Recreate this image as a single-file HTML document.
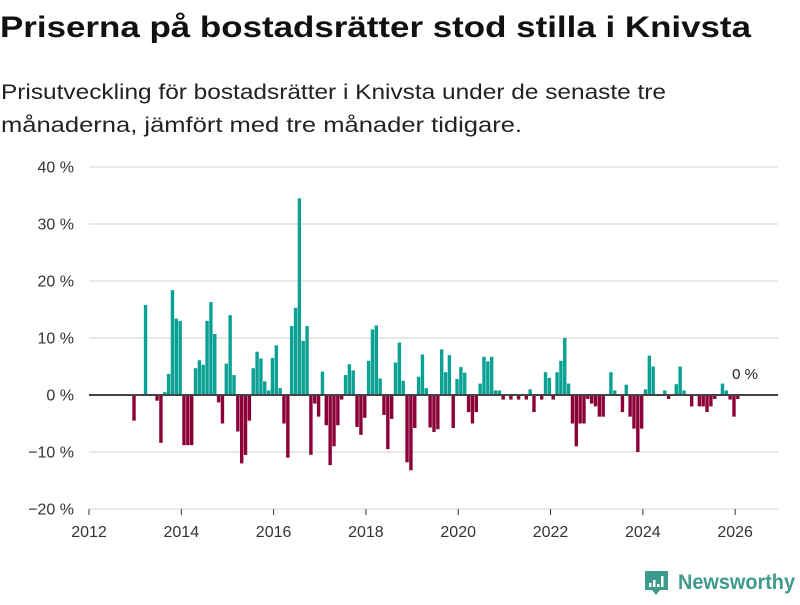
<!DOCTYPE html>
<html><head><meta charset="utf-8"><style>
body{margin:0;width:800px;height:600px;background:#fff;overflow:hidden;font-family:"Liberation Sans",sans-serif;}
</style></head><body>
<svg width="800" height="600" viewBox="0 0 800 600">
<text x="0" y="37" font-size="30" font-weight="bold" fill="#111" textLength="751" lengthAdjust="spacingAndGlyphs">Priserna på bostadsrätter stod stilla i Knivsta</text>
<text x="1" y="99" font-size="21.5" fill="#222" textLength="665" lengthAdjust="spacingAndGlyphs">Prisutveckling för bostadsrätter i Knivsta under de senaste tre</text>
<text x="1" y="132" font-size="21.5" fill="#222" textLength="521" lengthAdjust="spacingAndGlyphs">månaderna, jämfört med tre månader tidigare.</text>
<g id="grid"></g><g id="bars"></g><g id="axes"></g>
<text x="745" y="379" font-size="15" fill="#222" text-anchor="middle">0 %</text>
<g>
<path d="M645 571 h23 v19 h-8 l-4 5 l-4 -5 h-7 z" fill="#3e9a8c"/>
<rect x="649" y="583" width="2.5" height="4" fill="#fff"/><rect x="653" y="580" width="2.5" height="7" fill="#fff"/><rect x="657" y="584" width="2.5" height="3" fill="#fff"/><rect x="661" y="576" width="2.5" height="11" fill="#fff"/>
<text x="678" y="589" font-size="21" font-weight="bold" fill="#3e9a8c" textLength="117" lengthAdjust="spacingAndGlyphs">Newsworthy</text>
</g>
</svg>
<script>
const startIndex = 11; // Dec 2012 (months since Jan 2012)
const values = [-4.5,0,0,15.8,0,0,-1,-8.4,0.5,3.7,18.4,13.4,13,-8.8,-8.8,-8.8,4.7,6.1,5.3,13,16.3,10.7,-1.3,-5,5.5,14,3.5,-6.4,-12,-10.5,-4.5,4.7,7.6,6.4,2.4,0.8,6.5,8.7,1.2,-5,-11,12.1,15.3,34.5,9.5,12.1,-10.5,-1.5,-3.8,4.1,-5.3,-12.3,-9,-5.3,-0.8,3.5,5.4,4.3,-5.6,-7,-4,6,11.5,12.2,2.9,-3.5,-9.5,-4.2,5.7,9.2,2.5,-11.8,-13.2,-5.8,3.2,7.1,1.2,-5.7,-6.5,-6,8,4,7,-5.8,2.8,4.9,3.9,-3,-5,-3,2,6.7,5.9,6.7,0.8,0.8,-0.8,0,-0.8,0,-0.8,0,-0.8,1,-3,0,-0.8,4,3,-0.8,4,6,10,2,-5,-9,-5,-5,-0.7,-1.5,-2,-3.8,-3.8,0,4,0.8,0,-3,1.8,-3.8,-5.9,-10,-5.9,1,6.9,5,0,0,0.8,-0.7,0,1.9,5,0.8,0,-2,0,-2,-2,-3,-2,-0.7,0,2,0.8,-0.8,-3.8,-0.7,0];
const yTicks = [40,30,20,10,0,-10,-20];
const yTickLabels = ["40 %","30 %","20 %","10 %","0 %","\u221210 %","\u221220 %"];
const xTicks = [2012,2014,2016,2018,2020,2022,2024,2026];
const NS="http://www.w3.org/2000/svg";
function y(v){return 395 - v*5.7;}
function xMonth(m){return 89 + m*3.846;}
function xYear(yr){return xMonth((yr-2012)*12);}
function mk(tag,attrs,parent){const e=document.createElementNS(NS,tag);for(const k in attrs)e.setAttribute(k,attrs[k]);parent.appendChild(e);return e;}
const grid=document.getElementById('grid'),bars=document.getElementById('bars'),axes=document.getElementById('axes');
yTicks.forEach((t,i)=>{
  if(t!==0){const l=mk('line',{x1:89,x2:778,y1:y(t),y2:y(t),stroke:'#e0e0e0','stroke-width':1.5},grid);
  
  }
  const tx=mk('text',{x:74,y:y(t)+5.5,'font-size':16,fill:'#333','text-anchor':'end'},axes);
  tx.textContent=yTickLabels[i];
  
  
});
values.forEach((v,i)=>{
  if(v===0)return;
  const cx=xMonth(startIndex+i+0.7);
  const r=mk('rect',{x:cx-1.7,width:3.4,y:Math.min(y(v),395),height:Math.abs(y(v)-395),fill:v>0?'#0aa195':'#8b0036'},bars);
  
  
});
const z=mk('line',{x1:89,x2:778,y1:395,y2:395,stroke:'#444','stroke-width':2},axes);


xTicks.forEach(t=>{
  const tk=mk('line',{x1:xYear(t),x2:xYear(t),y1:509,y2:515,stroke:'#333','stroke-width':1},axes);
  
  
  const tx=mk('text',{x:xYear(t),y:537,'font-size':16,fill:'#333','text-anchor':'middle'},axes);
  tx.textContent=t;
  
  
});
</script>
</body></html>
